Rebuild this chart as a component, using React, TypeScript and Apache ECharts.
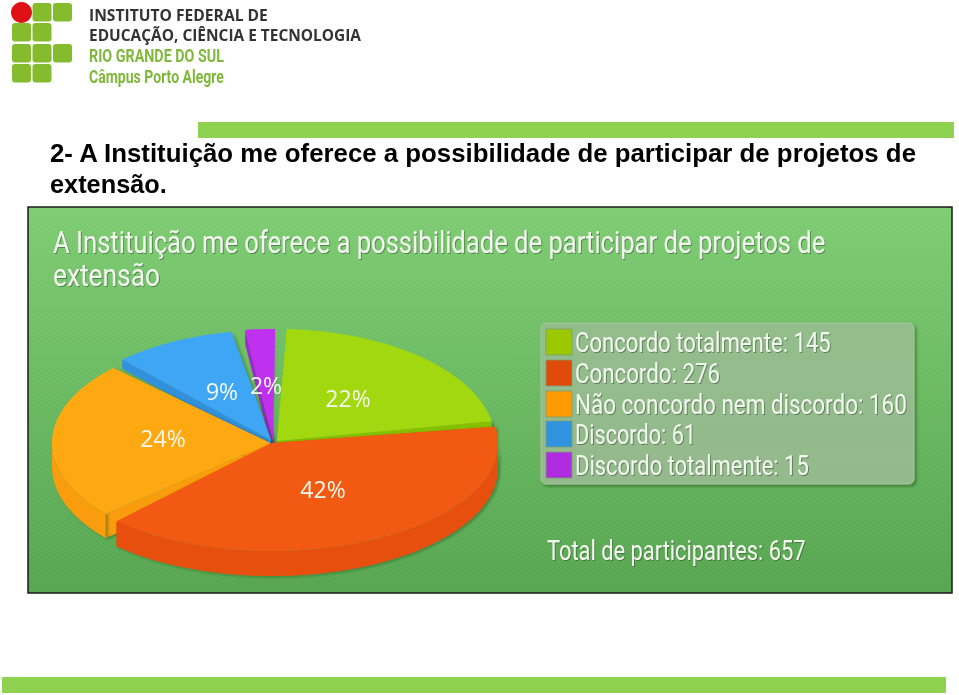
import React, { useEffect, useRef } from "react";
import * as echarts from "echarts";

const headingLines = ["2- A Instituição me oferece a possibilidade de participar de projetos de", "extensão."];
const chartTitleLines = ["A Instituição me oferece a possibilidade de participar de projetos de", "extensão"];
const logoLines = ["INSTITUTO FEDERAL DE", "EDUCAÇÃO, CIÊNCIA E TECNOLOGIA", "RIO GRANDE DO SUL", "Câmpus Porto Alegre"];
const categories = ["Concordo totalmente", "Concordo", "Não concordo nem discordo", "Discordo", "Discordo totalmente"];
const values = [145, 276, 160, 61, 15];
const totalLabel = "Total de participantes: 657";

const topColors = ["#a1d80f", "#f25a14", "#ffa912", "#3fa6f5", "#c030ef"];
const wallColors = ["#86c000", "#e64f0a", "#f99c0c", "#3390dc", "#9c2acc"];
const swatchColors = ["#9cc800", "#e04a0a", "#ff9a00", "#2f93e0", "#b02ce0"];
const drawOrder = [4, 3, 0, 2, 1];
const sliceLayout = [
  { cx: 277, cy: 441, rx: 218, ry: 112, depth: 6, lx: 71, ly: -43, ta: 0, tb: -5.5 },
  { cx: 272, cy: 443, rx: 226, ry: 108, depth: 25, lx: 51, ly: 46, ta: -4, tb: -7 },
  { cx: 270, cy: 443, rx: 218, ry: 108, depth: 24, lx: -107, ly: -5, ta: -1.5, tb: -4.6 },
  { cx: 271, cy: 440, rx: 218, ry: 110, depth: 9, lx: -49, ly: -49, ta: -1.6, tb: -4.3 },
  { cx: 273, cy: 440, rx: 220, ry: 111, depth: 14, lx: -7, ly: -55, ta: -1.1, tb: -2 },
];
const legendWidths = [256, 145, 332, 121, 234];
const legendYs = [343, 374, 405, 435, 466];

const START = -84;
const total = values.reduce((a, b) => a + b, 0);
const warp = (deg: number) => deg - 3.5 * (1 + Math.cos(((deg - 185) * Math.PI) / 180));
const ranges: [number, number][] = [];
{
  let a = START;
  values.forEach((v) => {
    const b = a + (v / total) * 360;
    ranges.push([a, b]);
    a = b;
  });
}

const measureCanvas = document.createElement("canvas").getContext("2d")!;
function fitText(text: string, font: string, x: number, y: number, width: number, fill: string, extra: any = {}) {
  measureCanvas.font = font;
  const w = measureCanvas.measureText(text).width;
  return {
    type: "text",
    x,
    y,
    scaleX: width / w,
    silent: true,
    style: { text, font, fill, textAlign: "left", textVerticalAlign: "middle", ...extra },
  };
}

const pt = (s: any, deg: number, dy = 0): number[] => {
  const r = (deg * Math.PI) / 180;
  return [s.cx + s.rx * Math.cos(r), s.cy + s.ry * Math.sin(r) + dy];
};
const arc = (s: any, a: number, b: number, dy = 0) => {
  const out: number[][] = [];
  const n = Math.max(2, Math.ceil(Math.abs(b - a) / 1.5));
  for (let i = 0; i <= n; i++) out.push(pt(s, a + ((b - a) * i) / n, dy));
  return out;
};

const renderSlice = (params: any, api: any) => {
  const i = api.value(0);
  const s = sliceLayout[i];
  const a = warp(ranges[i][0]) + s.ta;
  const b = warp(ranges[i][1]) + s.tb;
  const children: any[] = [];
  const shadow = { shadowColor: "rgba(20,70,20,0.45)", shadowBlur: 3, shadowOffsetX: 2, shadowOffsetY: 1 };
  const lo = Math.max(a, 0);
  const hi = Math.min(b, 180);
  const tip = [s.cx, s.cy];
  const tipD = [s.cx, s.cy + s.depth];
  [a, b].forEach((deg) => {
    children.push({
      type: "polygon",
      shape: { points: [tip, pt(s, deg), pt(s, deg, s.depth), tipD] },
      style: { fill: wallColors[i], ...shadow },
    });
  });
  if (hi > lo) {
    children.push({
      type: "polygon",
      shape: { points: [...arc(s, lo, hi), ...arc(s, hi, lo, s.depth)] },
      style: { fill: wallColors[i], ...shadow },
    });
  }
  children.push({
    type: "polygon",
    shape: { points: [tip, ...arc(s, a, b)] },
    style: { fill: topColors[i] },
  });
  return { type: "group", children };
};

const renderLabel = (params: any, api: any) => {
  const i = api.value(0);
  const s = sliceLayout[i];
  return {
    type: "text",
    x: s.cx + s.lx,
    y: s.cy + s.ly,
    style: {
      text: `${Math.round((values[i] / total) * 100)}%`,
      font: "23px 'Open Sans'",
      fill: "#f4f8ee",
      textAlign: "center",
      textVerticalAlign: "middle",
    },
  };
};

const stripes =
  "data:image/svg+xml," +
  encodeURIComponent(
    '<svg xmlns="http://www.w3.org/2000/svg" width="4" height="4"><path d="M-1 1L1 -1M0 4L4 0M3 5L5 3" stroke="rgba(255,255,255,0.07)" stroke-width="1"/></svg>'
  );

export default function App() {
  const ref = useRef<HTMLDivElement>(null);
  useEffect(() => {
    const chart = echarts.init(ref.current!, null, { renderer: "svg" });
    const g = "#85bc2e";
    const logoCells = [
      [0, 1], [0, 2], [1, 0], [1, 1], [2, 0], [2, 1], [2, 2], [3, 0], [3, 1],
    ];
    const colX = [12, 32.5, 53];
    const rowY = [3, 23, 44, 64];
    const logo = logoCells.map(([r, c]) => ({
      type: "rect",
      shape: { x: colX[c], y: rowY[r], width: 19, height: 18.5, r: 3 },
      style: { fill: g },
    }));
    const titleFont = "400 31px Roboto";
    const legendFont = "400 27px Roboto";
    const textShadow = { textShadowColor: "rgba(50,80,50,0.55)", textShadowBlur: 1, textShadowOffsetX: 1, textShadowOffsetY: 1 };
    chart.setOption({
      animation: false,
      graphic: {
        elements: [
          { type: "rect", shape: { x: 0, y: 0, width: 959, height: 695 }, style: { fill: "#ffffff" } },
          ...logo,
          { type: "circle", shape: { cx: 21.5, cy: 12.5, r: 10.5 }, style: { fill: "#df1116" } },
          fitText(logoLines[0], "bold 16px 'Open Sans'", 89, 15, 179, "#333333"),
          fitText(logoLines[1], "bold 16px 'Open Sans'", 89, 35, 272, "#333333"),
          fitText(logoLines[2], "bold 18px Roboto", 89, 56, 135, "#7fb83a"),
          fitText(logoLines[3], "bold 18px Roboto", 89, 77, 135, "#7fb83a"),
          { type: "rect", shape: { x: 198, y: 122, width: 756, height: 16 }, style: { fill: "#8fd150" } },
          fitText(headingLines[0], "bold 25px 'Liberation Sans'", 50, 153, 868, "#000000"),
          fitText(headingLines[1], "bold 25px 'Liberation Sans'", 50, 184, 117, "#000000"),
          {
            type: "rect",
            shape: { x: 28, y: 207, width: 924, height: 386 },
            style: {
              fill: new echarts.graphic.LinearGradient(0, 0, 0, 1, [
                { offset: 0, color: "#7dcc72" },
                { offset: 1, color: "#55a54f" },
              ]),
              stroke: "#1a1a1a",
              lineWidth: 1.5,
            },
          },
          {
            type: "rect",
            shape: { x: 29, y: 208, width: 922, height: 384 },
            style: { fill: { type: "pattern", image: stripes, repeat: "repeat", imageWidth: 4, imageHeight: 4 } },
          },
          fitText(chartTitleLines[0], titleFont, 53, 243, 773, "#f2f7ee", textShadow),
          fitText(chartTitleLines[1], titleFont, 53, 275, 107, "#f2f7ee", textShadow),
          {
            type: "rect",
            shape: { x: 541, y: 323, width: 373, height: 161, r: 5 },
            style: {
              fill: new echarts.graphic.LinearGradient(0, 0, 0, 1, [
                { offset: 0, color: "#93bd8b" },
                { offset: 1, color: "#94b98d" },
              ]),
              stroke: "#a3c99b",
              lineWidth: 1,
              shadowColor: "rgba(20,70,20,0.5)",
              shadowBlur: 3,
              shadowOffsetX: 2,
              shadowOffsetY: 2,
            },
          },
          ...categories.flatMap((c, i) => [
            {
              type: "rect",
              shape: { x: 546, y: legendYs[i] - 14, width: 26, height: 26 },
              style: { fill: swatchColors[i], stroke: "rgba(120,160,110,0.8)", lineWidth: 1 },
            },
            fitText(`${c}: ${values[i]}`, legendFont, 575, legendYs[i], legendWidths[i], "#f2f7ee", textShadow),
          ]),
          fitText(totalLabel, legendFont, 547, 551, 259, "#f2f7ee", textShadow),
          { type: "rect", shape: { x: 2, y: 677, width: 944, height: 16 }, style: { fill: "#8fd150" } },
        ],
      },
      series: [
        {
          type: "custom",
          coordinateSystem: "none",
          renderItem: renderSlice,
          data: drawOrder.map((i) => [i]),
          silent: true,
          z: 3,
        },
        {
          type: "custom",
          coordinateSystem: "none",
          renderItem: renderLabel,
          data: drawOrder.map((i) => [i]),
          silent: true,
          z: 4,
        },
      ],
    });
    return () => chart.dispose();
  }, []);
  return <div ref={ref} style={{ position: "fixed", left: 0, top: 0, width: 959, height: 695 }} />;
}
